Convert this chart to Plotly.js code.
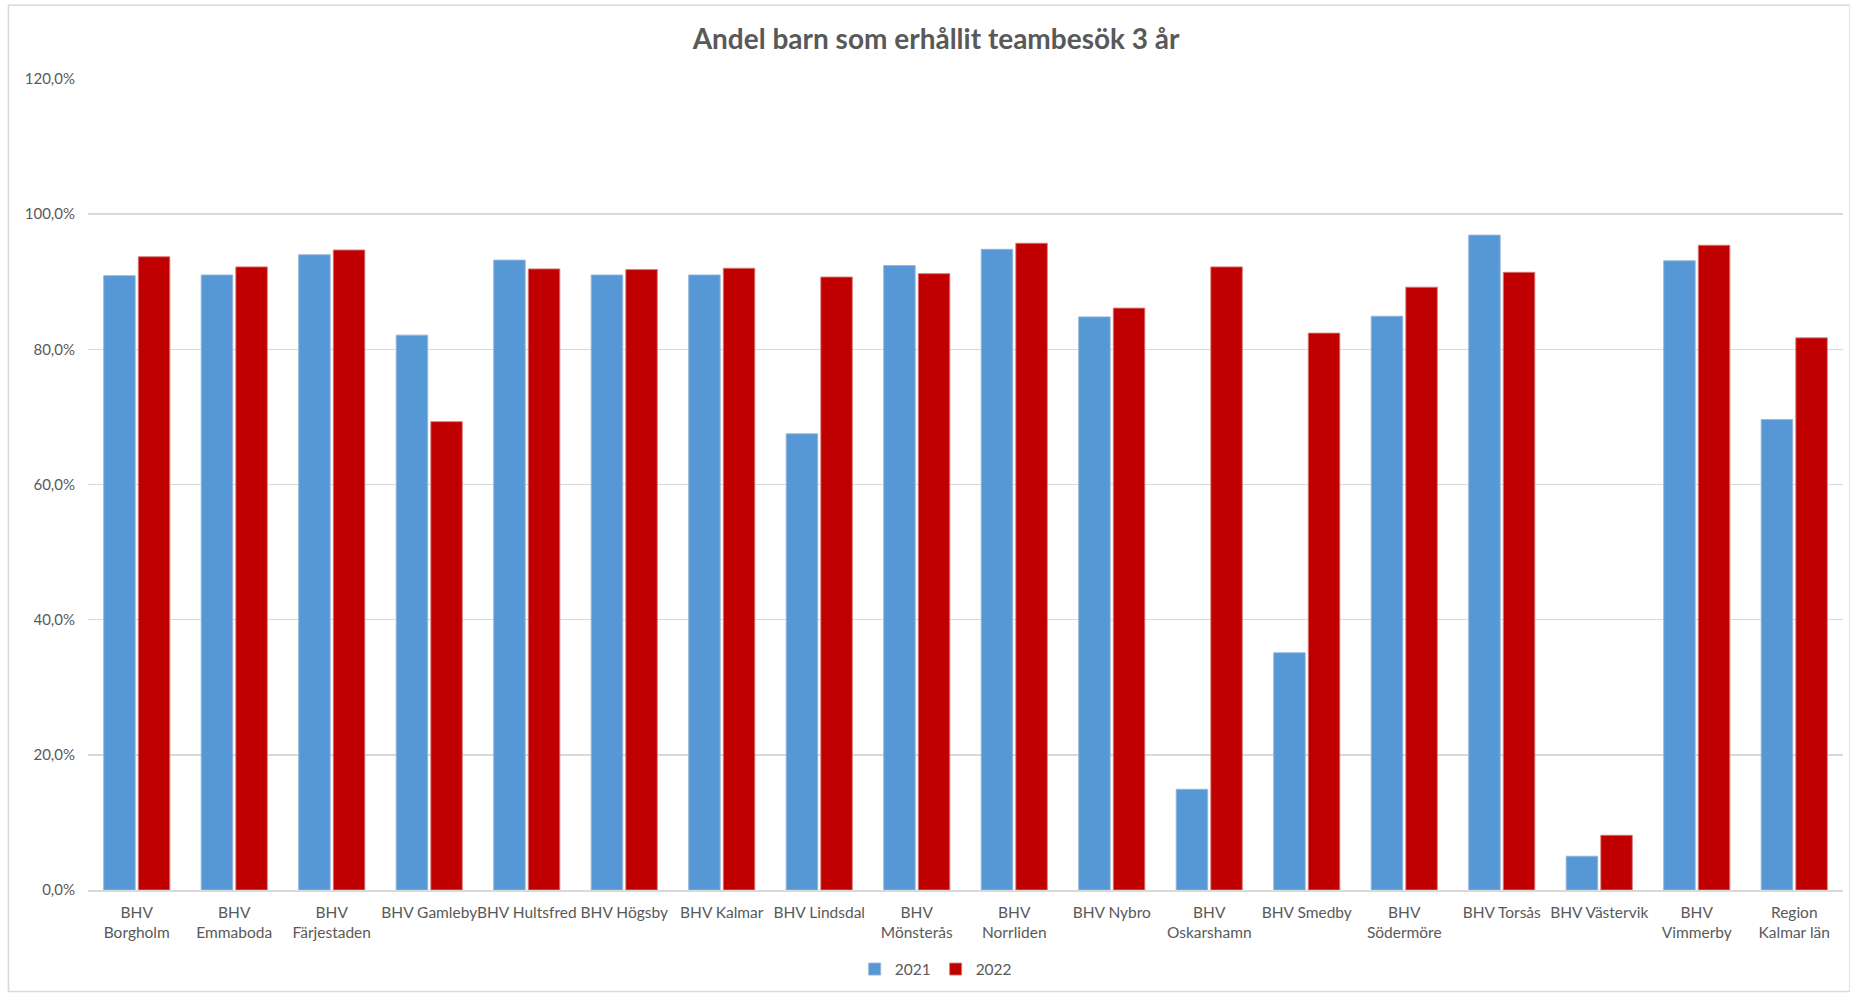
<!DOCTYPE html>
<html>
<head>
<meta charset="utf-8">
<script src="https://cdn.plot.ly/plotly-3.0.1.min.js"></script>
<style>html,body{margin:0;padding:0;background:#fff;}#chart{width:1850px;height:994px;}</style>
</head>
<body>
<div id="chart"></div>
<script>
const categories = [
  "BHV<br>Borgholm", "BHV<br>Emmaboda", "BHV<br>Färjestaden", "BHV Gamleby",
  "BHV Hultsfred", "BHV Högsby", "BHV Kalmar", "BHV Lindsdal",
  "BHV<br>Mönsterås", "BHV<br>Norrliden", "BHV Nybro", "BHV<br>Oskarshamn",
  "BHV Smedby", "BHV<br>Södermöre", "BHV Torsås", "BHV Västervik",
  "BHV<br>Vimmerby", "Region<br>Kalmar län"
];
const values2021 = [0.909, 0.910, 0.940, 0.821, 0.932, 0.910, 0.910, 0.675, 0.924, 0.948, 0.848, 0.149, 0.351, 0.849, 0.969, 0.050, 0.931, 0.696];
const values2022 = [0.937, 0.922, 0.947, 0.693, 0.919, 0.918, 0.920, 0.907, 0.912, 0.957, 0.861, 0.922, 0.824, 0.892, 0.914, 0.081, 0.954, 0.817];
const seriesNames = ["2021", "2022"];
const yTicks = [0, 0.2, 0.4, 0.6, 0.8, 1.0, 1.2];

const FONT = "Lato, 'Open Sans', sans-serif";
const GRAY = "#595959";

const data = [
  {type: "bar", name: seriesNames[0], x: categories, y: values2021,
   marker: {color: "#5698d6", line: {color: "rgba(150,180,215,0.9)", width: 1}}},
  {type: "bar", name: seriesNames[1], x: categories, y: values2022,
   marker: {color: "#c00000", line: {color: "rgba(215,120,120,0.9)", width: 1}}}
];

const layout = {
  width: 1850, height: 994,
  margin: {l: 88, r: 7, t: 79, b: 102},
  paper_bgcolor: "#ffffff", plot_bgcolor: "#ffffff",
  separators: ",.",
  font: {family: FONT, color: GRAY, size: 15},
  title: {text: "<b>Andel barn som erhållit teambesök 3 år</b>", x: 0.506, xref: "container", xanchor: "center",
          y: 39, yref: "container", yanchor: "middle",
          font: {family: FONT, size: 28, color: GRAY}},
  barmode: "group",
  bargap: 0.29,
  bargroupgap: 0.09,
  xaxis: {
    type: "category",
    showgrid: false,
    showline: true, linecolor: "#d9d9d9", linewidth: 2,
    ticks: "", ticklabelstandoff: 7, tickangle: 0,
    tickfont: {family: FONT, size: 15.5, color: GRAY},
    automargin: false
  },
  yaxis: {
    range: [0, 1.2],
    tickvals: yTicks,
    tickformat: ".1%",
    showgrid: true, gridcolor: "#d9d9d9", gridwidth: 1.5,
    zeroline: false, showline: false,
    ticks: "", ticklabelstandoff: 12,
    tickfont: {family: FONT, size: 15, color: GRAY},
    automargin: false
  },
  legend: {orientation: "h", x: 0.483, xanchor: "center", y: -0.098, yanchor: "middle",
           font: {family: FONT, size: 15.5, color: GRAY}, itemwidth: 30, traceorder: "normal"},
  shapes: [
    {type: "rect", xref: "paper", yref: "paper",
     x0: -0.0453, x1: 1.004, y0: -0.125, y1: 1.0910,
     line: {color: "#d9d9d9", width: 1.5}, fillcolor: "rgba(0,0,0,0)", layer: "below"}
  ],
  showlegend: true
};

Plotly.newPlot("chart", data, layout, {displayModeBar: false, staticPlot: true});
</script>
</body>
</html>
